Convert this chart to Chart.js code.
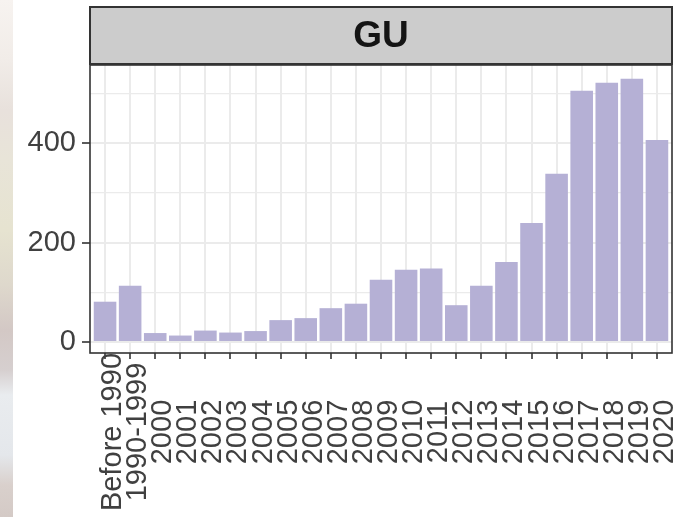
<!DOCTYPE html>
<html>
<head>
<meta charset="utf-8">
<script src="https://cdn.jsdelivr.net/npm/chart.js@4/dist/chart.umd.min.js"></script>
<style>
  html, body { margin: 0; padding: 0; background: #ffffff; }
  #wrap {
    position: relative; width: 674px; height: 517px; overflow: hidden;
    background:
      linear-gradient(to bottom,
        #f7f3f0 0px, #f1ece8 60px, #e8e1dc 110px, #e8e4d8 160px, #e6e3d0 230px,
        #ded8cc 285px, #d3c8c5 330px, #d6cfcf 370px, #e9ecef 395px, #e4e7eb 455px,
        #d9d0cc 485px, #d4cac6 517px) left top / 13px 100% no-repeat,
      #ffffff;
  }
  canvas { position: absolute; left: 0; top: 0; }
</style>
</head>
<body>
<div id="wrap"><canvas id="c" width="674" height="517"></canvas></div>
<script>
// Facet label and bar data
const panelTitle = 'GU';
const categories = ['Before 1990', '1990-1999', '2000', '2001', '2002', '2003', '2004',
  '2005', '2006', '2007', '2008', '2009', '2010', '2011', '2012', '2013', '2014',
  '2015', '2016', '2017', '2018', '2019', '2020'];
const counts = [81, 113, 18, 13, 23, 19, 22, 44, 48, 68, 77, 125, 145, 148, 74, 113,
  161, 239, 338, 505, 521, 529, 406];
const yGridValues = [0, 100, 200, 300, 400, 500];
const yTickLabels = [0, 200, 400];

const FONT = '"Liberation Sans", Arial, Helvetica, sans-serif';
const BAR_COLOR = '#b5b0d5';
const GRID_COLOR = '#ebebeb';
const AXIS_COLOR = '#333333';
const TEXT_COLOR = '#404040';

// Grey strip with the facet label, panel border and centred rotated x labels
const facetPlugin = {
  id: 'facetDecor',
  afterDatasetsDraw(chart) {
    const { ctx, chartArea: a } = chart;
    ctx.save();
    ctx.strokeStyle = AXIS_COLOR;
    ctx.lineWidth = 1.6;
    ctx.strokeRect(a.left, a.top, a.right - a.left, a.bottom - a.top);
    ctx.restore();
  },
  afterDraw(chart) {
    const { ctx, chartArea: a, scales } = chart;
    ctx.save();
    // strip
    const top = 7, bottom = a.top - 1;
    ctx.fillStyle = '#cccccc';
    ctx.fillRect(a.left, top, a.right - a.left, bottom - top);
    ctx.strokeStyle = AXIS_COLOR;
    ctx.lineWidth = 2;
    ctx.strokeRect(a.left, top, a.right - a.left, bottom - top);
    ctx.fillStyle = '#141414';
    ctx.font = 'bold 37px ' + FONT;
    ctx.textAlign = 'center';
    ctx.textBaseline = 'middle';
    ctx.fillText(panelTitle, (a.left + a.right) / 2, (top + bottom) / 2 + 1);

    // x axis labels, rotated and centred vertically
    ctx.fillStyle = TEXT_COLOR;
    ctx.font = '29px ' + FONT;
    const labelCentreY = 432;
    categories.forEach((label, i) => {
      const x = scales.x.getPixelForValue(i + 1) + 8;
      ctx.save();
      ctx.translate(x, labelCentreY);
      ctx.rotate(-Math.PI / 2);
      ctx.textAlign = 'center';
      ctx.textBaseline = 'middle';
      ctx.fillText(label, 0, 0);
      ctx.restore();
    });
    ctx.restore();
  }
};

new Chart(document.getElementById('c'), {
  type: 'bar',
  data: {
    datasets: [{
      data: counts.map((v, i) => ({ x: i + 1, y: v })),
      backgroundColor: BAR_COLOR,
      borderWidth: 0,
      barPercentage: 0.9,
      categoryPercentage: 1
    }]
  },
  options: {
    responsive: false,
    animation: false,
    layout: { padding: { top: 65, right: 2, left: 0, bottom: 0 } },
    plugins: { legend: { display: false }, tooltip: { enabled: false }, title: { display: false } },
    scales: {
      x: {
        type: 'linear',
        min: 0.4,
        max: 23.6,
        offset: false,
        afterBuildTicks: s => { s.ticks = categories.map((_, i) => ({ value: i + 1 })); },
        afterFit: s => { s.height = 517 - 353; },
        ticks: { display: false },
        border: { display: false },
        grid: {
          offset: false,
          color: GRID_COLOR,
          lineWidth: 2,
          drawTicks: true,
          tickLength: 6,
          tickColor: AXIS_COLOR,
          tickWidth: 1.6
        }
      },
      y: {
        type: 'linear',
        min: -22.1,
        max: 556.8,
        afterBuildTicks: s => { s.ticks = yGridValues.map(v => ({ value: v })); },
        afterFit: s => { s.width = 90; },
        border: { display: false },
        ticks: {
          padding: 6,
          color: TEXT_COLOR,
          font: { family: FONT, size: 29 },
          callback: v => (yTickLabels.includes(v) ? String(v) : '')
        },
        grid: {
          color: GRID_COLOR,
          lineWidth: c => (c.tick && yTickLabels.includes(c.tick.value) ? 2 : 1.3),
          tickLength: 8,
          tickWidth: 1.6,
          tickColor: c => (c.tick && yTickLabels.includes(c.tick.value) ? AXIS_COLOR : 'rgba(0,0,0,0)')
        }
      }
    }
  },
  plugins: [facetPlugin]
});
</script>
</body>
</html>
